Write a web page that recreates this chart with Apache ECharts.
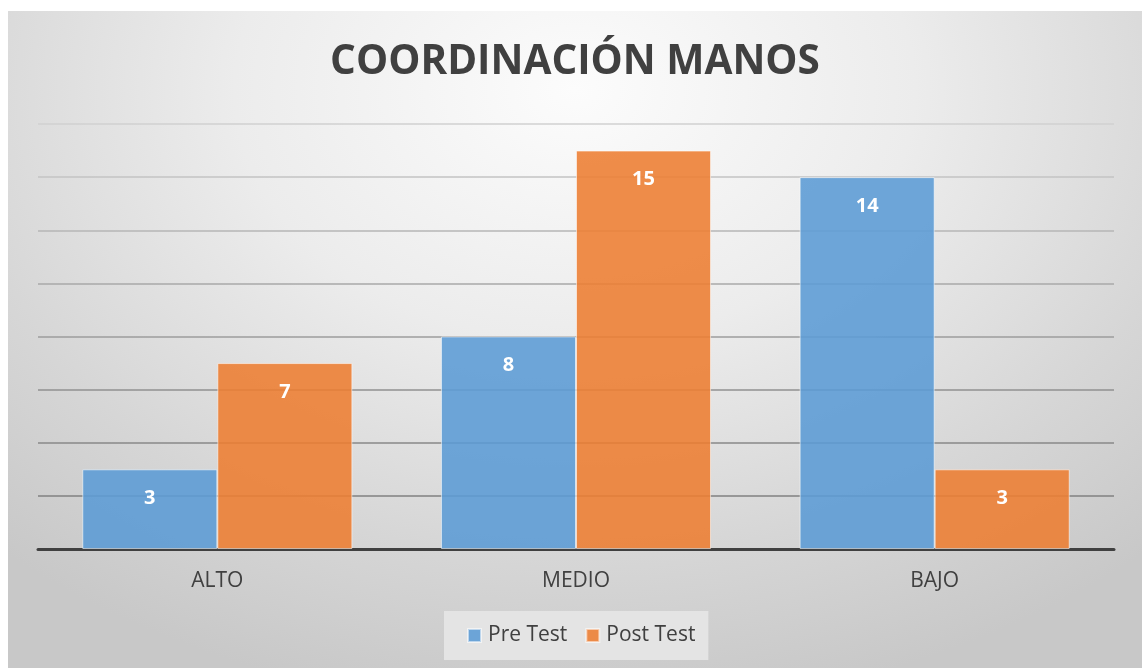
<!DOCTYPE html>
<html>
<head>
<meta charset="utf-8">
<script src="https://cdn.jsdelivr.net/npm/echarts@6/dist/echarts.min.js"></script>
<style>
html,body{margin:0;padding:0;background:#fff;width:1142px;height:668px;overflow:hidden;}
#chart{position:absolute;left:8px;top:11px;width:1134px;height:657px;
background:radial-gradient(ellipse 75% 95% at 50% 12%, #fcfcfc 0%, #ececec 40%, #d6d6d6 75%, #c8c8c8 100%);}
</style>
</head>
<body>
<div id="chart"></div>
<script>
const categories = ['ALTO', 'MEDIO', 'BAJO'];
const preTest = [3, 8, 14];
const postTest = [7, 15, 3];
const seriesNames = ['Pre Test', 'Post Test'];
const titleText = 'COORDINACIÓN MANOS';

const chart = echarts.init(document.getElementById('chart'), null, {renderer: 'canvas'});
const font = '"Open Sans", "Noto Sans", sans-serif';
const labelStyle = {
  show: true, position: 'insideTop', distance: 19,
  color: '#ffffff', fontFamily: font, fontWeight: 'bold', fontSize: 20
};
chart.setOption({
  backgroundColor: 'transparent',
  animation: false,
  title: {
    text: titleText, left: 'center', top: 26,
    textStyle: {fontFamily: font, fontWeight: 'bold', fontSize: 40.5, color: '#404040'}
  },
  legend: {
    data: seriesNames, left: 436, top: 600,
    itemWidth: 13, itemHeight: 13, itemGap: 18,
    padding: [14, 13, 14, 23],
    backgroundColor: 'rgba(232,232,232,0.85)',
    icon: 'rect',
    textStyle: {fontFamily: font, fontSize: 21, color: '#404040', padding: [0, 0, 0, 2]}
  },
  grid: {left: 30, right: 28, top: 113, bottom: 119, containLabel: false},
  xAxis: {
    type: 'category', data: categories,
    axisLine: {lineStyle: {color: '#404040', width: 3}},
    axisTick: {show: false},
    axisLabel: {fontFamily: font, fontSize: 21, color: '#404040', margin: 22}
  },
  yAxis: {
    type: 'value', min: 0, max: 16, interval: 2,
    axisLabel: {show: false}, axisLine: {show: false}, axisTick: {show: false},
    splitLine: {lineStyle: {width: 1.5, color: ['#7a7a7a', '#808080', '#888888', '#919191', '#9c9c9c', '#a9a9a9', '#b6b6b6', '#c3c3c3', '#d0d0d0']}}
  },
  series: [
    {
      name: seriesNames[0], type: 'bar', data: preTest,
      barGap: '0%', barCategoryGap: '24.7%',
      itemStyle: {color: 'rgba(91,155,213,0.88)', borderColor: 'rgba(255,255,255,0.55)', borderWidth: 1},
      label: labelStyle
    },
    {
      name: seriesNames[1], type: 'bar', data: postTest,
      barGap: '0%', barCategoryGap: '24.7%',
      itemStyle: {color: 'rgba(237,125,49,0.88)', borderColor: 'rgba(255,255,255,0.55)', borderWidth: 1},
      label: labelStyle
    }
  ]
});
</script>
</body>
</html>
